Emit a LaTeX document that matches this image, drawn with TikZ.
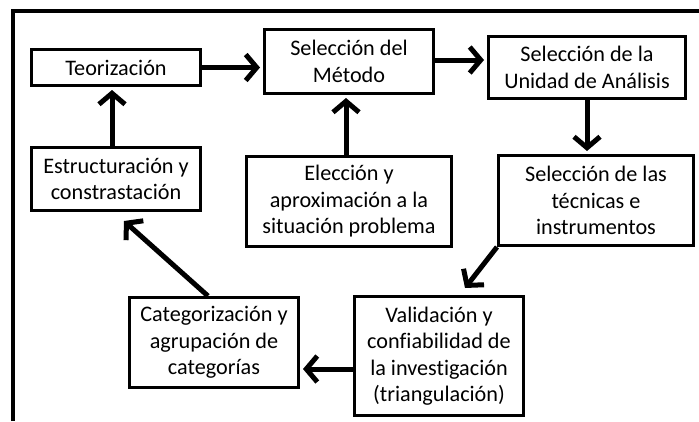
\documentclass[tikz,border=0pt]{standalone}
\usepackage{fontspec}
\setmainfont{Carlito}[Ligatures=NoCommon]
\usetikzlibrary{arrows.meta}
\begin{document}
\begin{tikzpicture}[x=1pt,y=-1pt,
  box/.style={draw, line width=3pt, align=center, inner sep=0pt,
    font=\fontsize{22.2}{26.5}\selectfont},
  arr/.style={line width=5pt, -{Straight Barb[length=11pt,width=26pt,line width=5pt]}, shorten >=3pt}]
\useasboundingbox (0,0) rectangle (699,421);
\draw[line width=4pt] (13,421) -- (13,11) -- (699,11);
\node[box, minimum width=169pt, minimum height=36pt] (teo) at (116,67.5) {Teorización};
\node[box, minimum width=169pt, minimum height=64pt] (met) at (349,61.5) {Selección del\\Método};
\node[box, minimum width=197pt, minimum height=62pt] (uni) at (587,67.5) {Selección de la\\Unidad de Análisis};
\node[box, minimum width=169pt, minimum height=63pt] (est) at (116,179) {Estructuración y\\constrastación};
\node[box, minimum width=205pt, minimum height=90pt] (ele) at (349,201.5) {Elección y\\aproximación a la\\situación problema};
\node[box, minimum width=195pt, minimum height=90pt] (tec) at (596,200.5) {Selección de las\\técnicas e\\instrumentos};
\node[box, minimum width=169pt, minimum height=90pt] (cat) at (214,342.5) {Categorización y\\agrupación de\\categorías};
\node[box, minimum width=169pt, minimum height=119pt] (val) at (439,356) {Validación y\\confiabilidad de\\la investigación\\(triangulación)};
\coordinate (t4) at (465,288);
\coordinate (t6) at (124,221);
\draw[arr] (teo.east) -- (teo.east -| met.west);
\draw[arr] ([yshift=1.5pt]met.east) -- ([yshift=1.5pt]met.east -| uni.west);
\draw[arr] (uni.south) -- (uni.south |- tec.north);
\draw[arr, shorten >=0pt] (tec.south west) -- (t4);
\draw[arr] ([yshift=-13pt]val.west) -- ([yshift=-13pt]val.west -| cat.east);
\draw[arr, shorten >=0pt] ([xshift=-6pt]cat.north) -- (t6);
\draw[arr] ([xshift=-4pt]est.north) -- ([xshift=-4pt]est.north |- teo.south);
\draw[arr] ([xshift=-3pt]ele.north) -- ([xshift=-3pt]ele.north |- met.south);
\end{tikzpicture}
\end{document}
